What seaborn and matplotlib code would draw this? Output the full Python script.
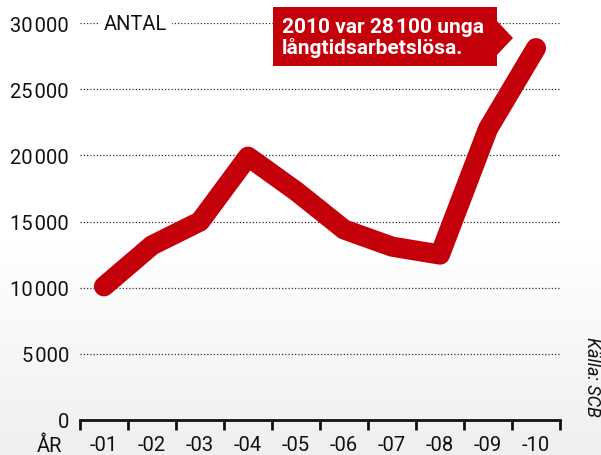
import numpy as np
import pandas as pd
import seaborn as sns
import matplotlib.pyplot as plt
from matplotlib.patches import Polygon

years = ["-01", "-02", "-03", "-04", "-05", "-06", "-07", "-08", "-09", "-10"]
antal = [10100, 13200, 15000, 19900, 17300, 14400, 13100, 12500, 22000, 28100]
y_ticks = [0, 5000, 10000, 15000, 20000, 25000, 30000]
y_labels = ["0", "5\u200a000", "10\u200a000", "15\u200a000", "20\u200a000", "25\u200a000", "30\u200a000"]

red = "#c4000b"

sns.set_style("white")
plt.rcParams["font.family"] = ["Roboto", "DejaVu Sans"]

df = pd.DataFrame({"pos": np.arange(len(years)), "antal": antal})

fig = plt.figure(figsize=(6.01, 4.56), dpi=100)

# light grey gradient towards the bottom
bg = fig.add_axes([0, 0, 1, 1], zorder=-10)
grad = np.concatenate([np.linspace(0.935, 1.0, 50), np.ones(50)])[:, None]
bg.imshow(grad, aspect="auto", cmap="gray", vmin=0, vmax=1, extent=[0, 1, 0, 1], origin="lower")
bg.set_axis_off()

ax = fig.add_axes([80 / 601, 1 - 421 / 456, 480 / 601, 397 / 456])
ax.patch.set_alpha(0)

sns.lineplot(data=df, x="pos", y="antal", ax=ax, color=red, linewidth=14.5,
             solid_capstyle="round", solid_joinstyle="round", clip_on=False, zorder=5)

ax.set_xlim(-0.5, len(years) - 0.5)
ax.set_ylim(0, 30000)
ax.set_yticks(y_ticks)
ax.set_yticklabels(y_labels)
ax.set_xticks(np.arange(len(years)))
ax.set_xticklabels(years)
ax.set_xticks(np.arange(len(years) + 1) - 0.5, minor=True)
ax.tick_params(axis="x", which="major", bottom=False, length=0, labelsize=14.5, pad=11, colors="#111111")
ax.tick_params(axis="x", which="minor", bottom=True, length=7, width=2, direction="out", color="#111111")
ax.tick_params(axis="y", length=0, labelsize=14.5, pad=8, colors="#111111")
ax.set_xlabel("")
ax.set_ylabel("")

for s in ["top", "right", "left"]:
    ax.spines[s].set_visible(False)
ax.spines["bottom"].set_linewidth(2)
ax.spines["bottom"].set_color("#111111")

for v in y_ticks[1:]:
    ax.axhline(v, color="#333333", linewidth=0.9, linestyle=(0, (1, 1.6)), zorder=1)

ax.text(0.05, 30000, "ANTAL", fontsize=14.5, color="#111111", va="center", ha="left",
        zorder=3, bbox=dict(facecolor="white", edgecolor="none", pad=3),
        transform=ax.get_yaxis_transform())

fig.text(37 / 601, 1 - 446 / 456, "ÅR", fontsize=14.5, color="#111111", va="center", ha="left")
fig.text(592 / 601, 1 - 377 / 456, "Källa: SCB", fontsize=13, style="italic", color="#111111",
         rotation=-90, va="center", ha="center")

# callout box
box_l, box_r, box_t, box_b = 273 / 601, 497 / 601, 1 - 8 / 456, 1 - 67 / 456
fig.patches.append(Polygon([[box_l, box_b], [box_r, box_b], [box_r, 1 - 56 / 456],
                            [513 / 601, 1 - 39 / 456], [box_r, 1 - 22 / 456],
                            [box_r, box_t], [box_l, box_t]],
                           closed=True, facecolor=red, edgecolor="none",
                           transform=fig.transFigure, zorder=20))
fig.text(282 / 601, 1 - 38 / 456, "2010 var 28\u200a100 unga\nlångtidsarbetslösa.",
         fontsize=15, fontweight="bold", color="white", va="center", ha="left",
         linespacing=1.08, zorder=21)

fig.savefig("out.png", dpi=100)
